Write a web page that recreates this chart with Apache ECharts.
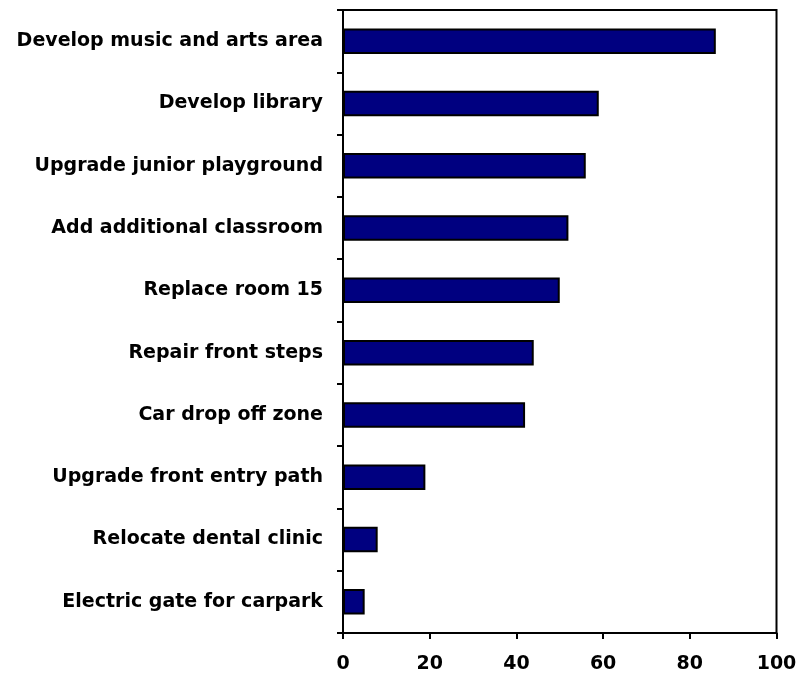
<!DOCTYPE html>
<html><head><meta charset="utf-8">
<script src="https://cdn.jsdelivr.net/npm/echarts@6/dist/echarts.min.js"></script>
<style>html,body{margin:0;padding:0;background:#fff}#c{width:796px;height:675px}</style>
</head><body><div id="c"></div>
<script>
const categories = ["Develop music and arts area","Develop library","Upgrade junior playground","Add additional classroom","Replace room 15","Repair front steps","Car drop off zone","Upgrade front entry path","Relocate dental clinic","Electric gate for carpark"];
const values = [86,59,56,52,50,44,42,19,8,5];
const xTicks = [0,20,40,60,80,100];

const chart = echarts.init(document.getElementById('c'));
const font = {fontFamily:'DejaVu Sans, Liberation Sans, Arial, sans-serif', fontWeight:'bold', fontSize:19, color:'#000'};
chart.setOption({
  animation:false,
  backgroundColor:'#fff',
  grid:{left:343,right:19.5,top:10,bottom:42,show:true,borderColor:'#000',borderWidth:2,backgroundColor:'transparent',outerBoundsMode:'none',containLabel:false},
  xAxis:{type:'value',min:xTicks[0],max:xTicks[xTicks.length-1],interval:20,
    axisLine:{show:true,lineStyle:{color:'#000',width:2}},
    axisTick:{show:true,length:6,lineStyle:{color:'#000',width:2}},
    splitLine:{show:false},
    axisLabel:Object.assign({margin:22},font,{fontSize:19})},
  yAxis:{type:'category',data:categories,inverse:true,
    axisLine:{show:true,lineStyle:{color:'#000',width:2}},
    axisTick:{show:true,length:6,lineStyle:{color:'#000',width:2}},
    axisLabel:Object.assign({margin:20},font)},
  series:[{type:'bar',data:values,barCategoryGap:'59%',
    itemStyle:{color:'#000080',borderColor:'#000',borderWidth:2}}]
});
</script></body></html>
